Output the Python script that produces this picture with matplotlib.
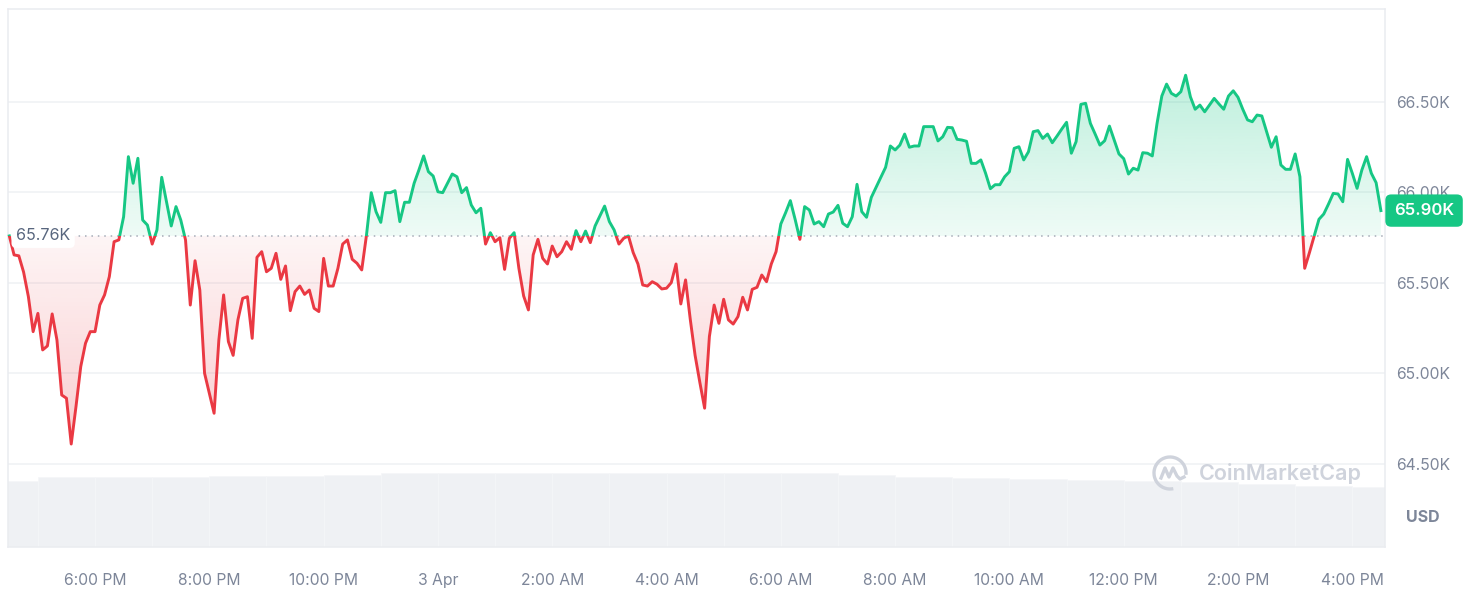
import numpy as np
import matplotlib
matplotlib.use("Agg")
import matplotlib.pyplot as plt
from matplotlib.patches import Rectangle, Arc
from matplotlib.path import Path
from matplotlib.transforms import blended_transform_factory
from matplotlib.lines import Line2D

plt.rcParams['font.family'] = ['Inter', 'DejaVu Sans']

# ---------------- data ----------------
START_HOUR = 16.5          # 2 Apr, 4:30 PM (hours since 2 Apr 00:00)
STEP_MIN = 5               # 5-minute samples

prices = [
    65760, 65655, 65650, 65560, 65425, 65231, 65332, 65130, 65152, 65329,
    65185, 64881, 64863, 64610, 64817, 65038, 65167, 65231, 65231, 65378,
    65434, 65535, 65728, 65738, 65866, 66198, 66051, 66189, 65848, 65820,
    65715, 65793, 66084, 65949, 65815, 65922, 65848, 65738, 65378, 65623,
    65461, 65001, 64891, 64780, 65185, 65434, 65176, 65100,
    65296, 65415, 65424, 65194, 65642, 65673, 65562, 65581, 65664, 65520,
    65594, 65347, 65452, 65483, 65437, 65461, 65360, 65342, 65636, 65483,
    65483, 65581, 65715, 65738, 65631, 65609, 65572, 65765, 65999, 65894,
    65835, 65999, 65999, 66010, 65839, 65946, 65946, 66051, 66124, 66202,
    66115, 66091, 66004, 65999, 66051, 66102, 66087, 65999,
    66027, 65931, 65888, 65913, 65715, 65778, 65728, 65750, 65575, 65747,
    65778, 65581, 65428, 65351, 65655, 65741, 65636, 65605, 65704, 65645,
    65673, 65728, 65686, 65789, 65728, 65787, 65723, 65815, 65870, 65925,
    65839, 65793, 65715, 65747, 65760, 65668, 65605, 65489, 65483, 65507,
    65493, 65467, 65471, 65502, 65605, 65384, 65517, 65296,
    65100, 64950, 64808, 65204, 65378, 65277, 65410, 65296, 65273, 65314,
    65421, 65351, 65465, 65476, 65544, 65507, 65605, 65673, 65826, 65888,
    65955, 65852, 65741, 65922, 65903, 65826, 65839, 65811, 65881, 65892,
    65929, 65830, 65811, 65866, 66045, 65894, 65863, 65973, 66029, 66084,
    66139, 66257, 66235, 66262, 66323, 66250, 66257, 66257, 66364,
    66364, 66364, 66285, 66308, 66360, 66358, 66294, 66290, 66283, 66161,
    66161, 66180, 66106, 66021, 66043, 66043, 66087, 66115, 66244, 66253,
    66180, 66225, 66336, 66342, 66299, 66323, 66275, 66312, 66351, 66388,
    66217, 66281, 66487, 66493, 66382, 66323, 66262, 66286, 66367, 66290,
    66213, 66187, 66102, 66134, 66124, 66220, 66217, 66202,
    66382, 66533, 66599, 66548, 66533, 66557, 66648, 66529, 66460, 66483,
    66446, 66483, 66520, 66489, 66460, 66533, 66562, 66526, 66460, 66401,
    66391, 66428, 66423, 66336, 66250, 66308, 66152, 66128, 66128, 66213,
    66087, 65581, 65668, 65760, 65852, 65881, 65936, 65995, 65992, 65949,
    66183, 66106, 66023, 66124, 66198, 66106, 66054, 65900,
]
baseline_price = 65760
last_price = 65900
baseline_label = "65.76K"
last_label = "65.90K"

volume_hour_offsets = list(range(25))
volume_bn = [29.7, 31.5, 31.5, 31.5, 32.0, 32.0, 32.4, 33.3, 33.3, 33.3,
             33.3, 33.3, 33.3, 33.3, 33.3, 32.4, 31.5, 31.1, 30.6, 30.2,
             29.7, 29.3, 28.4, 27.5, 27.0]

x_tick_hours = [18, 20, 22, 24, 26, 28, 30, 32, 34, 36, 38, 40]
x_tick_labels = ["6:00 PM", "8:00 PM", "10:00 PM", "3 Apr", "2:00 AM", "4:00 AM",
                 "6:00 AM", "8:00 AM", "10:00 AM", "12:00 PM", "2:00 PM", "4:00 PM"]
y_ticks = [64500, 65000, 65500, 66000, 66500]
y_tick_labels = ["64.50K", "65.00K", "65.50K", "66.00K", "66.50K"]

# ---------------- styling ----------------
GREEN = "#16c784"
RED = "#ea3943"
GRID = "#eff1f4"
LABEL = "#7d8699"

W, H = 1472, 610
fig = plt.figure(figsize=(W / 100, H / 100), dpi=100)
L, R, T, B = 8, 1385, 9, 547
rect = [L / W, 1 - B / H, (R - L) / W, (B - T) / H]

x = START_HOUR + np.arange(len(prices)) * STEP_MIN / 60.0
p = np.array(prices, dtype=float)
xmin, xmax = 16.477, 40.572
ymin, ymax = 64041, 67014

# volume axes (behind)
axv = fig.add_axes(rect, zorder=0)
axv.bar(START_HOUR + np.array(volume_hour_offsets), volume_bn, width=1.0,
        color="#eff1f4", edgecolor="#f5f6f8", linewidth=0.5)
axv.set_xlim(xmin, xmax)
axv.set_ylim(0, 242)
axv.axis("off")

ax = fig.add_axes(rect, zorder=1)
ax.patch.set_alpha(0)

# gradient fills
def gradient_fill(mask_up):
    if mask_up:
        coll = ax.fill_between(x, p, baseline_price, where=p >= baseline_price,
                               interpolate=True, facecolor="none", edgecolor="none")
        col = matplotlib.colors.to_rgb(GREEN)
        alphas = np.linspace(0.07, 0.28, 256)
        ext = [xmin, xmax, baseline_price, p.max()]
    else:
        coll = ax.fill_between(x, p, baseline_price, where=p <= baseline_price,
                               interpolate=True, facecolor="none", edgecolor="none")
        col = matplotlib.colors.to_rgb(RED)
        alphas = np.linspace(0.25, 0.05, 256)
        ext = [xmin, xmax, p.min(), baseline_price]
    img = np.zeros((256, 1, 4))
    img[:, 0, :3] = col
    img[:, 0, 3] = alphas
    im = ax.imshow(img, extent=ext, origin="lower", aspect="auto", zorder=2,
                   interpolation="bilinear")
    path = Path.make_compound_path(*coll.get_paths())
    im.set_clip_path(path, ax.transData)

gradient_fill(True)
gradient_fill(False)

# lines split at baseline via clipping
up_line, = ax.plot(x, p, color=GREEN, lw=2.1, zorder=4, solid_joinstyle="round")
dn_line, = ax.plot(x, p, color=RED, lw=2.1, zorder=4, solid_joinstyle="round")
up_line.set_clip_path(Rectangle((xmin - 1, baseline_price), xmax - xmin + 2, 1e5,
                                transform=ax.transData))
dn_line.set_clip_path(Rectangle((xmin - 1, baseline_price - 1e5), xmax - xmin + 2, 1e5,
                                transform=ax.transData))

ax.axhline(baseline_price, color="#a5abb7", lw=1.1, ls=(0, (1, 3.2)), zorder=3)

ax.set_xlim(xmin, xmax)
ax.set_ylim(ymin, ymax)

ax.set_yticks(y_ticks, y_tick_labels)
ax.yaxis.tick_right()
ax.grid(axis="y", color=GRID, lw=1.1, zorder=0)
ax.set_axisbelow(True)
ax.tick_params(axis="y", length=0, pad=8, labelsize=11.3, labelcolor=LABEL)
ax.set_xticks(x_tick_hours, x_tick_labels)
ax.tick_params(axis="x", length=0, pad=19, labelsize=11.3, labelcolor=LABEL)
for s in ax.spines.values():
    s.set_color("#eaecf0")
    s.set_linewidth(1.1)

# baseline label
tr = blended_transform_factory(ax.transAxes, ax.transData)
ax.text(0.0058, baseline_price, baseline_label, transform=tr, ha="left", va="center",
        fontsize=11.6, color="#58667e", zorder=6,
        bbox=dict(boxstyle="round,pad=0.28,rounding_size=0.3", fc="white", ec="none"))

# current price badge
ax.text(1.0 + 9 / (R - L), last_price, last_label, transform=tr, ha="left", va="center",
        fontsize=12, color="white", fontweight="semibold", zorder=10, clip_on=False,
        bbox=dict(boxstyle="round,pad=0.52,rounding_size=0.35", fc=GREEN, ec="none"))

fig.text(1423 / W, 1 - 517 / H, "USD", ha="center", va="center", fontsize=11.5,
         fontweight="bold", color=LABEL)

# watermark
WM = "#cfd3dc"
fig.text(1199 / W, 1 - 474 / H, "CoinMarketCap", ha="left", va="center", fontsize=15.5,
         fontweight="semibold", color=WM, zorder=5)
cx, cy = 1170, 473
fig.patches.append(Arc((cx / W, 1 - cy / H), 32 / W, 32 / H, theta1=-15, theta2=275,
                       transform=fig.transFigure, color=WM, lw=2.4, zorder=5))
mx = np.array([-9, -5, -1, 3, 7, 10, 14])
my = np.array([5, -5, 4, -5, 3, 6, 4])
fig.lines.append(Line2D((cx + mx) / W, 1 - (cy + my) / H, transform=fig.transFigure,
                        color=WM, lw=2.4, solid_joinstyle="round", zorder=5))

fig.savefig("out.png", dpi=100, facecolor="white")
